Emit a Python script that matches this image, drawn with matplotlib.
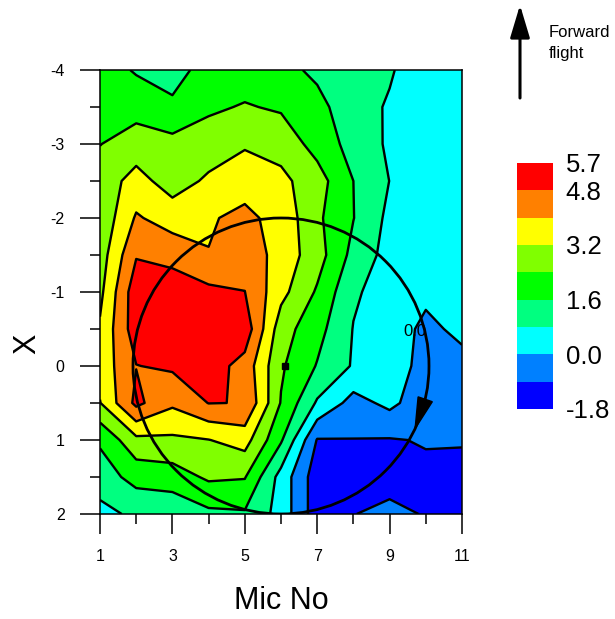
import numpy as np
import matplotlib
matplotlib.use("Agg")
import matplotlib.pyplot as plt
from matplotlib.patches import Ellipse, Polygon

plt.rcParams['font.family'] = ['Liberation Sans', 'DejaVu Sans']
plt.rcParams['axes.unicode_minus'] = False
plt.rcParams['contour.negative_linestyle'] = 'solid'

# ---------------- data ----------------
mic_no = [1, 2, 3, 4, 5, 6, 7, 8, 9, 10, 11]
x_pos = [-4.0, -3.5, -3.0, -2.5, -2.0, -1.5, -1.0, -0.5, 0.0, 0.5, 1.0, 1.5, 2.0]

z_m40 = [2.0, 1.52, 1.28, 1.93, 2.0, 1.9, 1.4, 1.1, 0.85, 0.5, 0.5]
z_m35 = [2.2, 2.1, 1.75, 2.27, 2.46, 2.3, 1.9, 1.0, 0.75, 0.5, 0.5]
z_m30 = [2.38, 2.78, 2.65, 2.79, 3.1, 2.9, 2.1, 1.3, 0.68, 0.5, 0.5]
z_m25 = [2.77, 3.49, 2.84, 3.33, 3.72, 3.4, 2.75, 1.6, 0.79, 0.5, 0.5]
z_m20 = [2.6, 4.09, 3.64, 3.93, 4.17, 3.75, 2.55, 1.62, 0.6, 0.45, 0.45]
z_m15 = [2.8, 4.74, 4.52, 4.02, 4.49, 3.69, 2.75, 1.35, 0.5, 0.4, 0.4]
z_m10 = [3.0, 5.3, 5.3, 5.0, 4.81, 3.45, 2.3, 0.91, 0.45, 0.14, 0.3]
z_m05 = [3.3, 5.25, 5.4, 5.3, 5.3, 2.75, 1.88, 0.77, 0.35, -0.15, 0.15]
z_p00 = [3.5, 4.78, 4.93, 5.2, 4.5, 2.51, 1.55, 0.72, 0.3, -0.2, -0.2]
z_p05 = [3.17, 5.0, 4.14, 4.82, 4.78, 2.35, 0.7, -0.3, 0.2, -0.5, -0.55]
z_p10 = [1.71, 2.99, 3.05, 3.18, 3.52, 1.7, -0.85, -0.82, -0.85, -0.75, -0.75]
z_p15 = [1.22, 1.87, 2.01, 2.53, 2.45, 0.5, -1.25, -1.2, -1.1, -0.95, -1.0]
z_p20 = [0.545, 0.97, 1.0, 1.42, 1.5, 0.5, -1.25, -0.82, -0.6, -0.85, -1.1]

levels = [-1.8, -0.8, 0.0, 0.8, 1.6, 2.4, 3.2, 4.0, 4.8, 5.7]
band_colors = ['#0000FF', '#0080FF', '#00FFFF', '#00FF80', '#00FF00',
               '#80FF00', '#FFFF00', '#FF8000', '#FF0000']
cbar_ticks = [5.7, 4.8, 3.2, 1.6, 0.0, -1.8]
cbar_labels = ['5.7', '4.8', '3.2', '1.6', '0.0', '-1.8']
x_ticks = [1, 3, 5, 7, 9, 11]
y_ticks = [-4, -3, -2, -1, 0, 1, 2]

circle_center = (6.0, 0.0)
dot_pos = (6.1, 0.0)
label_pos = (9.7, -0.46)

Z = np.array([z_m40, z_m35, z_m30, z_m25, z_m20, z_m15, z_m10, z_m05,
              z_p00, z_p05, z_p10, z_p15, z_p20])

# ---------------- figure ----------------
W, H = 615, 619
fig = plt.figure(figsize=(W / 100, H / 100), dpi=100)
ax_l, ax_r, ax_t, ax_b = 100, 462, 70, 514
ax = fig.add_axes([ax_l / W, (H - ax_b) / H, (ax_r - ax_l) / W, (ax_b - ax_t) / H])

cf = ax.contourf(mic_no, x_pos, Z, levels=levels, colors=band_colors)
ax.contour(mic_no, x_pos, Z, levels=levels[1:-1], colors='k', linewidths=1.7,
           linestyles='solid')

ax.set_xlim(1, 11)
ax.set_ylim(2, -4)

# pixel -> data scale
sx = 10.0 / (ax_r - ax_l)
sy = 6.0 / (ax_b - ax_t)

R = 148.0
ax.add_patch(Ellipse(circle_center, 2 * R * sx, 2 * R * sy, fill=False,
                     ec='k', lw=2.0, zorder=5))
# arrow head on the circle (clockwise)
a_tip, a_base = np.deg2rad(25), np.deg2rad(13)
tip = np.array([R * np.cos(a_tip), R * np.sin(a_tip)])
base = np.array([R * np.cos(a_base), R * np.sin(a_base)])
d = (tip - base) / np.linalg.norm(tip - base)
n = np.array([-d[1], d[0]])
pts_px = [tip, base + 7.5 * n, base - 7.5 * n]
pts = [(circle_center[0] + p[0] * sx, circle_center[1] + p[1] * sy) for p in pts_px]
ax.add_patch(Polygon(pts, closed=True, fc='k', ec='k', lw=1, zorder=6))

ax.plot([dot_pos[0]], [dot_pos[1]], marker='s', ms=4.5, color='k', zorder=6)
ax.text(label_pos[0], label_pos[1], '0.0', fontsize=12, ha='center', va='center', zorder=4)

ax.set_xticks(x_ticks)
ax.set_xticks([2, 4, 6, 8, 10], minor=True)
ax.set_yticks(y_ticks)
ax.set_yticks([-3.5, -2.5, -1.5, -0.5, 0.5, 1.5], minor=True)
ax.tick_params(which='major', length=14.4, width=1.1, labelsize=11.5, pad=11)
ax.tick_params(which='minor', length=7.2, width=1.1)
for s in ax.spines.values():
    s.set_linewidth(1.1)

ax.set_xlabel('Mic No', fontsize=22)
ax.xaxis.set_label_coords(0.5, -0.196)
ax.xaxis.label.set_va('center')
ax.set_ylabel('X', fontsize=22, rotation=90)
ax.yaxis.set_label_coords(-0.2017, 0.383)
ax.yaxis.label.set_va('center')
ax.yaxis.label.set_ha('center')

# ---------------- colorbar ----------------
cb_l, cb_r, cb_t, cb_b = 517, 553, 163, 409
cax = fig.add_axes([cb_l / W, (H - cb_b) / H, (cb_r - cb_l) / W, (cb_b - cb_t) / H])
cb = fig.colorbar(cf, cax=cax, ticks=cbar_ticks)
cb.set_ticklabels(cbar_labels)
cb.outline.set_visible(False)
cax.tick_params(length=0, labelsize=18.5, pad=9)

# ---------------- forward flight arrow ----------------
ax.annotate('', xy=(520, H - 5), xytext=(520, H - 98), xycoords='figure pixels',
            textcoords='figure pixels',
            arrowprops=dict(arrowstyle='-|>,head_length=2.0,head_width=0.6',
                            mutation_scale=10, lw=2.2, color='k',
                            shrinkA=0, shrinkB=0))
fig.text(549 / W, (H - 25) / H, 'Forward\nflight', fontsize=12, ha='left', va='top',
         linespacing=1.5)

fig.savefig('out.png', dpi=100)
